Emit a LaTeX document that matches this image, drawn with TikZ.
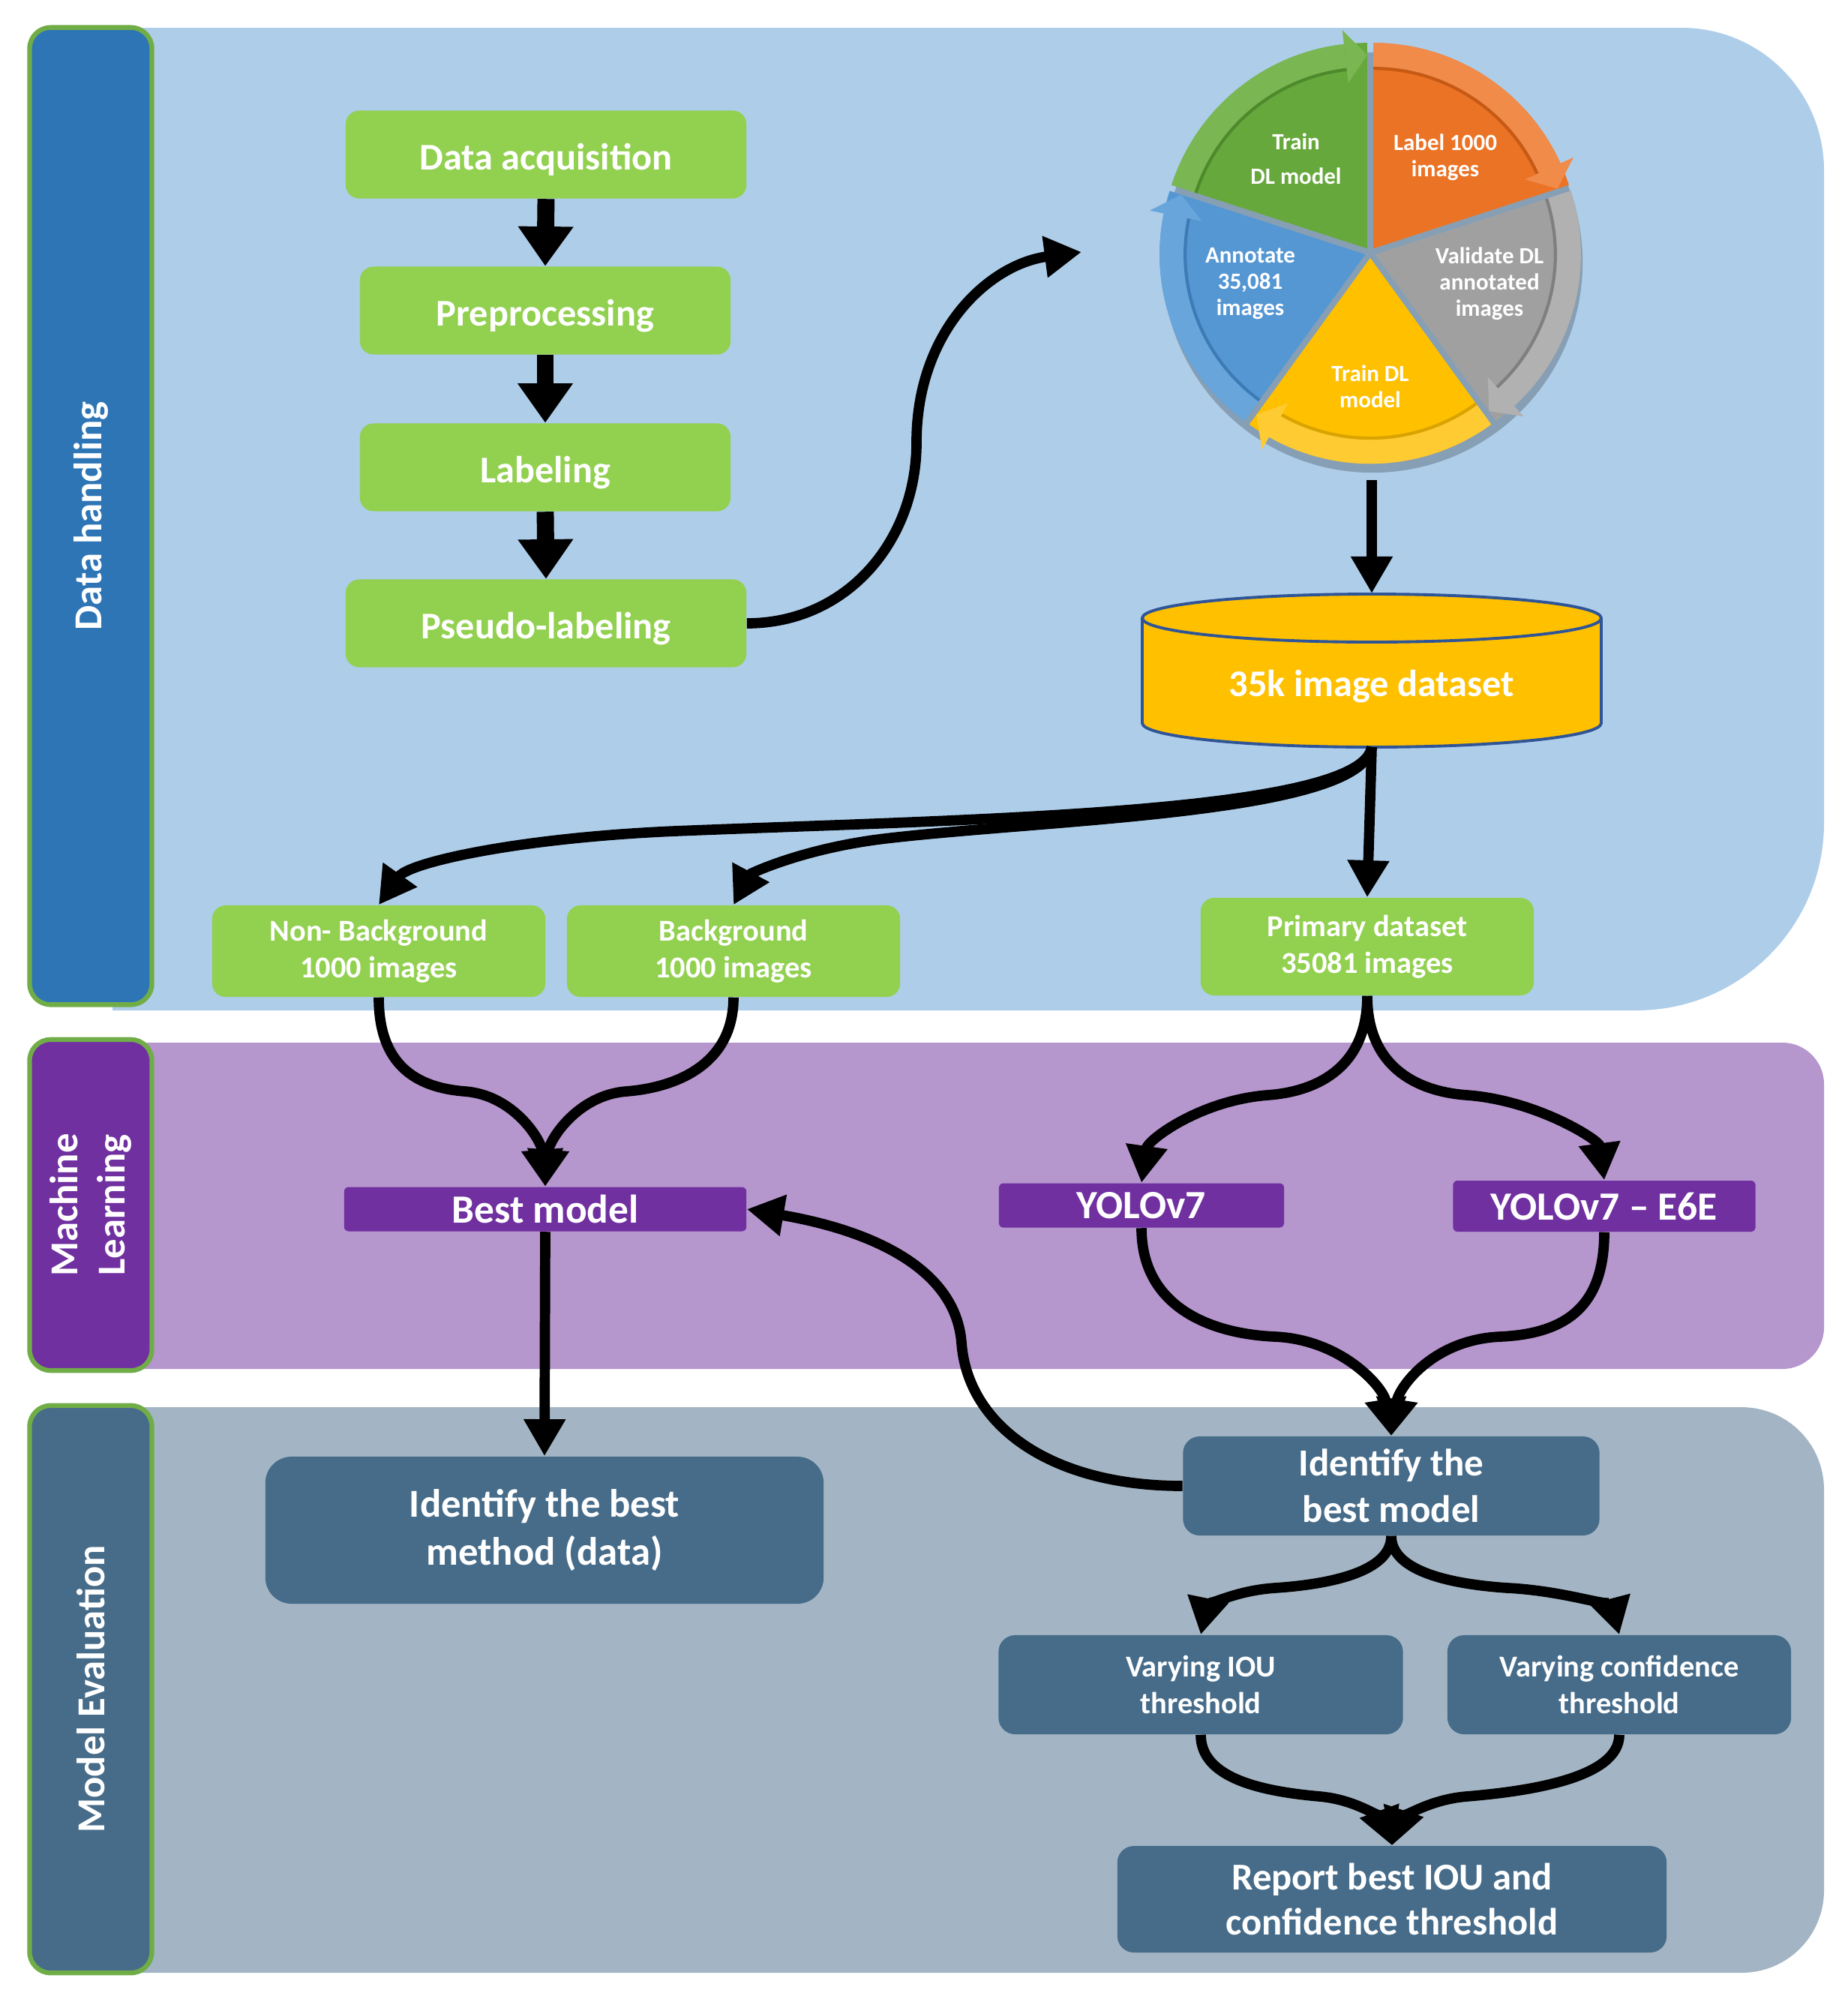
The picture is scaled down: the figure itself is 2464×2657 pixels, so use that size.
\documentclass[tikz,border=0pt]{standalone}
\usepackage{fontspec}
\setmainfont{Carlito}
\usetikzlibrary{arrows.meta}
\definecolor{dhbg}{HTML}{AECDE9}
\definecolor{dhlab}{HTML}{2E75B6}
\definecolor{mlbg}{HTML}{B596CD}
\definecolor{mldark}{HTML}{7030A0}
\definecolor{mebg}{HTML}{A3B5C4}
\definecolor{medark}{HTML}{466C8A}
\definecolor{boxgreen}{HTML}{92D050}
\definecolor{laneborder}{HTML}{70AD47}
\definecolor{cylfill}{HTML}{FFC000}
\definecolor{cylline}{HTML}{2F5597}
\definecolor{pgreen}{HTML}{67A83D}
\definecolor{pgreenb}{HTML}{7AB752}
\definecolor{pgreens}{HTML}{4E8A2C}
\definecolor{porange}{HTML}{EB7325}
\definecolor{porangeb}{HTML}{F08B4A}
\definecolor{poranges}{HTML}{C65A14}
\definecolor{pgray}{HTML}{A0A0A0}
\definecolor{pgrayb}{HTML}{B1B1B1}
\definecolor{pgrays}{HTML}{7F7F7F}
\definecolor{pyellow}{HTML}{FFC000}
\definecolor{pyellowb}{HTML}{FFCB33}
\definecolor{pyellows}{HTML}{D9A300}
\definecolor{pblue}{HTML}{5597D3}
\definecolor{pblueb}{HTML}{68A5DB}
\definecolor{pblues}{HTML}{3D7BB6}
\newcommand\pieseg[4]{%
  \begin{scope}[shift={({#1+36}:0.07cm)}]
    \fill[#2] (0,0) -- ({#1}:2.74cm) arc[start angle=#1, end angle=#1+72, radius=2.74cm] -- cycle;
    \fill[#3] ({#1+72}:2.40cm) arc[start angle=#1+72, end angle=#1+6.5, radius=2.40cm]
      -- ({#1+6.5}:2.74cm) arc[start angle=#1+6.5, end angle=#1+72, radius=2.74cm] -- cycle;
    \draw[#4, line width=1.2pt] ({#1+72}:2.40cm) arc[start angle=#1+72, end angle=#1+6.5, radius=2.40cm];
    \fill[#3] ({#1+6.5}:2.22cm) -- ({#1+6.5}:2.93cm) -- ({#1}:2.58cm) -- cycle;
  \end{scope}}
\begin{document}
\begin{tikzpicture}[x=0.01cm,y=-0.01cm,
  lanelab/.style={rotate=90, rounded corners=0.28cm, draw=laneborder, line width=1.8pt, text=white,
    font=\bfseries\fontsize{15}{18}\selectfont, align=center, inner sep=0pt, minimum height=1.63cm},
  gbox/.style={fill=boxgreen, rounded corners=0.18cm, text=white, align=center, inner sep=0pt},
  bigtxt/.style={font=\bfseries\fontsize{14.3}{17.2}\selectfont, text height=13.8pt, text depth=2.2pt},
  smalltxt/.style={font=\bfseries\fontsize{11.5}{14}\selectfont},
  mlbox/.style={fill=mldark, rounded corners=0.06cm, text=white, align=center, inner sep=0pt,
    font=\bfseries\fontsize{15.2}{18}\selectfont},
  mebox/.style={fill=medark, rounded corners=0.22cm, text=white, align=center, inner sep=0pt},
  blockarrow/.style={line width=6.5pt, -{Triangle[length=15pt,width=20pt]}},
  conn/.style={line width=3.9pt, -{Triangle[length=14pt,width=15pt]}},
  pietext/.style={text=white, align=center, font=\bfseries\fontsize{8.8}{10}\selectfont, inner sep=0pt},
]
\useasboundingbox (0,0) rectangle (2464,2657);
% ---------- lane backgrounds ----------
\fill[dhbg] (150,37) -- (2242,37) .. controls (2347,37) and (2432,122) .. (2432,227)
  -- (2432,1097) .. controls (2432,1235) and (2320,1347) .. (2182,1347) -- (150,1347) -- cycle;
\fill[mlbg] (150,1390) -- (2377,1390) .. controls (2407,1390) and (2432,1415) .. (2432,1445)
  -- (2432,1770) .. controls (2432,1800) and (2407,1825) .. (2377,1825) -- (150,1825) -- cycle;
\fill[mebg] (150,1876) -- (2322,1876) .. controls (2383,1876) and (2432,1925) .. (2432,1986)
  -- (2432,2520) .. controls (2432,2581) and (2383,2630) .. (2322,2630) -- (150,2630) -- cycle;
% ---------- lane labels ----------
\node[lanelab, fill=dhlab, minimum width=13.02cm] (lanedh) at (121,688) {Data handling};
\node[lanelab, fill=mldark, minimum width=4.41cm] (laneml) at (121,1606.5) {Machine\\Learning};
\node[lanelab, fill=medark, minimum width=7.56cm] (laneme) at (121,2252) {Model Evaluation};
% ---------- pie ----------
\fill[black, opacity=0.22] (1830,350) circle[radius=2.80cm];
\begin{scope}[shift={(1827,337)}]
  \pieseg{18}{porange}{porangeb}{poranges}
  \pieseg{90}{pgreen}{pgreenb}{pgreens}
  \pieseg{162}{pblue}{pblueb}{pblues}
  \pieseg{234}{pyellow}{pyellowb}{pyellows}
  \pieseg{306}{pgray}{pgrayb}{pgrays}
\end{scope}
\node[pietext, font=\bfseries\fontsize{8.8}{13}\selectfont] (pt1) at (1728,212) {Train\\DL model};
\node[pietext] (pt2) at (1927,210) {Label 1000\\images};
\node[pietext] (pt3) at (1667,378) {Annotate\\35,081\\images};
\node[pietext] (pt4) at (1986,378) {Validate DL\\annotated\\images};
\node[pietext] (pt5) at (1827,515) {Train DL\\model};
% ---------- cylinder ----------
\filldraw[fill=cylfill, draw=cylline, line width=1.1pt]
  (1523,824) -- (1523,964) .. controls (1523,982) and (1660,996) .. (1829,996)
  .. controls (1998,996) and (2135,982) .. (2135,964) -- (2135,824)
  .. controls (2135,806) and (1998,792) .. (1829,792)
  .. controls (1660,792) and (1523,806) .. (1523,824) -- cycle;
\draw[cylline, line width=1.1pt] (1523,824) .. controls (1523,842) and (1660,856) .. (1829,856)
  .. controls (1998,856) and (2135,842) .. (2135,824);
\node[text=white, font=\bfseries\fontsize{14.3}{17}\selectfont] (cyl) at (1829,915) {35k image dataset};
\coordinate (pietip) at (1442,336);
\coordinate (piebot) at (1829,640);
\coordinate (cyltop) at (1829,791);
\coordinate (cylbot) at (1829,996);
% ---------- nodes ----------
\node[gbox, bigtxt, minimum width=5.34cm, minimum height=1.17cm] (da) at (728,206) {Data acquisition};
\node[gbox, bigtxt, minimum width=4.94cm, minimum height=1.17cm] (pp) at (727,414) {Preprocessing};
\node[gbox, bigtxt, minimum width=4.94cm, minimum height=1.17cm] (lab) at (727,623) {Labeling};
\node[gbox, bigtxt, minimum width=5.34cm, minimum height=1.17cm] (psl) at (728,831) {Pseudo-labeling};
\node[gbox, smalltxt, minimum width=4.44cm, minimum height=1.22cm] (nb) at (505,1268) {Non- Background\\1000 images};
\node[gbox, smalltxt, minimum width=4.44cm, minimum height=1.22cm] (bgd) at (978,1268) {Background\\1000 images};
\node[gbox, smalltxt, minimum width=4.44cm, minimum height=1.30cm] (pd) at (1823,1262) {Primary dataset\\35081 images};
\node[mlbox, minimum width=5.36cm, minimum height=0.59cm] (bm) at (727,1612) {Best model};
\node[mlbox, minimum width=3.80cm, minimum height=0.59cm] (y7) at (1522,1607) {YOLOv7};
\node[mlbox, minimum width=4.03cm, minimum height=0.68cm] (e6) at (2139,1608) {YOLOv7 – E6E};
\node[mebox, rounded corners=0.35cm, font=\bfseries\fontsize{15}{18}\selectfont, minimum width=7.44cm, minimum height=1.96cm] (ibmeth) at (726,2040) {Identify the best\\method (data)};
\node[mebox, font=\bfseries\fontsize{14.5}{17.5}\selectfont, minimum width=5.55cm, minimum height=1.32cm] (ibmod) at (1855,1981) {Identify the\\best model};
\node[mebox, smalltxt, minimum width=5.39cm, minimum height=1.32cm] (viou) at (1601,2246) {Varying IOU\\threshold};
\node[mebox, smalltxt, minimum width=4.58cm, minimum height=1.32cm] (vconf) at (2159,2246) {Varying confidence\\threshold};
\node[mebox, font=\bfseries\fontsize{14.4}{17}\selectfont, minimum width=7.32cm, minimum height=1.42cm] (rep) at (1856,2532) {Report best IOU and\\confidence threshold};
% ---------- connectors ----------
\draw[blockarrow] (da.south) -- (pp.north);
\draw[blockarrow] (pp.south) -- (lab.north);
\draw[blockarrow] (lab.south) -- (psl.north);
\draw[conn] (psl.east) .. controls (1130,831) and (1222,720) .. (1222,590)
  .. controls (1222,440) and (1320,352) .. (pietip);
\draw[conn] (piebot) -- (cyltop);
\draw[conn] (cylbot) -- (pd.north);
\draw[conn] (cylbot) .. controls (1815,1085) and (1300,1092) .. (900,1108)
  .. controls (690,1117) and (545,1150) .. (nb.north);
\draw[conn] (cylbot) .. controls (1815,1085) and (1400,1092) .. (1180,1118)
  .. controls (1070,1131) and (1000,1165) .. (bgd.north);
\draw[conn] (nb.south) .. controls (505,1420) and (555,1450) .. (620,1455)
  .. controls (685,1460) and (722,1520) .. (bm.north);
\draw[conn] (bgd.south) .. controls (978,1420) and (900,1450) .. (835,1455)
  .. controls (770,1460) and (732,1520) .. (bm.north);
\draw[conn] (pd.south) .. controls (1823,1420) and (1760,1455) .. (1690,1460)
  .. controls (1600,1467) and (1530,1520) .. (y7.north);
\draw[conn] (pd.south) .. controls (1823,1420) and (1886,1455) .. (1956,1460)
  .. controls (2050,1467) and (2132,1520) .. (e6.north);
\draw[conn] (y7.south) .. controls (1522,1740) and (1610,1778) .. (1700,1782)
  .. controls (1790,1786) and (1845,1850) .. (ibmod.north);
\draw[conn] (e6.south) .. controls (2139,1740) and (2090,1778) .. (2000,1782)
  .. controls (1910,1786) and (1865,1850) .. (ibmod.north);
\draw[conn] (ibmod.west) .. controls (1400,1981) and (1290,1900) .. (1282,1790)
  .. controls (1274,1690) and (1160,1640) .. (bm.east);
\draw[conn] (bm.south) -- (ibmeth.north);
\draw[conn] (ibmod.south) .. controls (1855,2095) and (1775,2112) .. (1700,2117)
  .. controls (1640,2121) and (1608,2145) .. (viou.north);
\draw[conn] (ibmod.south) .. controls (1855,2095) and (1935,2112) .. (2010,2117)
  .. controls (2090,2121) and (2150,2145) .. (vconf.north);
\draw[conn] (viou.south) .. controls (1601,2370) and (1680,2388) .. (1760,2395)
  .. controls (1815,2400) and (1845,2430) .. (rep.north);
\draw[conn] (vconf.south) .. controls (2159,2370) and (2040,2388) .. (1955,2395)
  .. controls (1897,2400) and (1866,2430) .. (rep.north);
\end{tikzpicture}
\end{document}
